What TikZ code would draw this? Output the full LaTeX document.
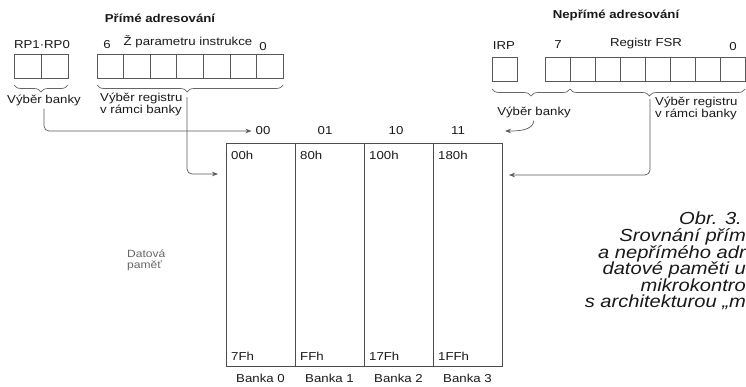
\documentclass[tikz,border=0pt]{standalone}
\usepackage{fontspec}
\setmainfont{Liberation Sans}[FakeStretch=1.15]
\usetikzlibrary{arrows.meta,positioning,decorations.pathreplacing}

\begin{document}
\begin{tikzpicture}[x=1pt,y=-1pt,
  font=\fontsize{11.5}{12}\selectfont,
  lbl/.style={text=black!90,inner sep=1pt},
  heading/.style={lbl,font=\fontsize{11.5}{13}\selectfont\bfseries},
  bitcell/.style={draw=black!65,line width=0.8pt,minimum width=#1,
    minimum height=24pt,inner sep=0pt,outer sep=0pt},
  bitcell/.default=25pt,
  bankcol/.style={draw=black!70,line width=0.9pt,minimum width=69pt,
    minimum height=223pt,inner sep=0pt,outer sep=0pt},
  addr/.style={lbl,anchor=west,inner sep=0pt},
  grp/.style={draw=black!60,line width=0.7pt,decorate,
    decoration={brace,mirror,amplitude=7pt,#1}},
  grp/.default={aspect=0.5},
  flow/.style={-{Stealth[length=6pt,width=4.5pt]},draw=black!65,
    line width=0.7pt,rounded corners=5pt},
  caption/.style={text=black!90,inner sep=0pt,align=right,
    font=\fontsize{17.5}{16.6}\selectfont\itshape}]
\useasboundingbox (0,0) rectangle (746,386);

% data memory
\foreach \i/\cx in {0/260.5,1/329.5,2/398.5,3/467.5}
  \node[bankcol] (col\i) at (\cx,254.5) {};
\foreach \i/\lo/\hi in {0/00h/7Fh,1/80h/FFh,2/100h/17Fh,3/180h/1FFh}{
  \node[addr] (lo\i) at ([xshift=5pt,yshift=-12pt]col\i.north west) {\lo};
  \node[addr] (hi\i) at ([xshift=5pt,yshift=10pt]col\i.south west) {\hi};
  \node[lbl] (bk\i) at ([yshift=-12pt]col\i.south) {Banka \i};
}
\foreach \i/\code/\dx in {0/00/2.5,1/01/-4.5,2/10/-2.5,3/11/-9.5}
  \node[lbl] (code\i) at ([xshift=\dx pt,yshift=12pt]col\i.north) {\code};
\node[lbl,text=black!60,align=left,anchor=west,
  font=\fontsize{10.5}{11}\selectfont] (datamem) at (126,260) {Datová\\paměť};

% direct addressing
\node[heading] (direct) at (160,18) {Přímé adresování};
\node[bitcell=27pt] (rp1) at (27.5,66) {};
\node[bitcell=27pt,right=0pt of rp1] (rp0) {};
\node[lbl] (rplbl) at (42,45) {RP1·RP0};
\foreach \i in {0,...,6}
  \node[bitcell=26.6pt] (op\i) at (110.3+26.6*\i,66) {};
\node[lbl] (opmsb) at (107,45) {6};
\node[lbl] (opsrc) at (188,42) {Ž parametru instrukce};
\node[lbl] (oplsb) at (263,47) {0};
\draw[grp] ([yshift=-7pt]rp1.south west)--([yshift=-7pt]rp0.south east);
\draw[grp={aspect=0.484}] ([yshift=-7pt]op0.south west)--([yshift=-7pt]op6.south east);
\node[lbl] (bankL) at (44,100) {Výběr banky};
\node[lbl,align=left,anchor=west] (regL) at (99,104) {Výběr registru\\v rámci banky};
\coordinate (tipL) at (187,97);
\coordinate (inL) at (218,174);
\draw[flow,shorten <=2pt,shorten >=3pt] (bankL.south)|-(code0.west);
\draw[flow] (tipL)|-(inL);

% indirect addressing
\node[heading] (indirect) at (616,15) {Nepřímé adresování};
\node[bitcell=25pt] (irp) at (504.5,69) {};
\node[lbl] (irplbl) at (504,46) {IRP};
\foreach \i in {0,...,7}
  \node[bitcell=25pt] (fsr\i) at (557.5+25*\i,69) {};
\node[lbl] (fsrmsb) at (558,45) {7};
\node[lbl] (fsrname) at (646,44) {Registr FSR};
\node[lbl] (fsrlsb) at (733,47) {0};
\draw[grp] ([yshift=-8pt]irp.south west)--([yshift=-8pt]fsr0.south east);
\draw[grp={aspect=0.454}] ([yshift=-8pt]fsr1.south west)--([yshift=-8pt]fsr7.south east);
\node[lbl] (bankR) at (534,112) {Výběr banky};
\node[lbl,align=left,anchor=west] (regR) at (654,108) {Výběr registru\\v rámci banky};
\coordinate (tipR) at (650,99);
\coordinate (inBankR) at (505,131);
\coordinate (inR) at (509,175);
\draw[flow,shorten <=2pt] (bankR.south) to[out=-95,in=0] (inBankR);
\draw[flow] (tipR)|-(inR);

\node[caption,anchor=north east] (capt) at (746,212)
  {Obr. 3.\kern4pt\\Srovnání přím\\a nepřímého adr\\datové paměti u\\mikrokontro\\s architekturou „m};
\end{tikzpicture}
\end{document}
